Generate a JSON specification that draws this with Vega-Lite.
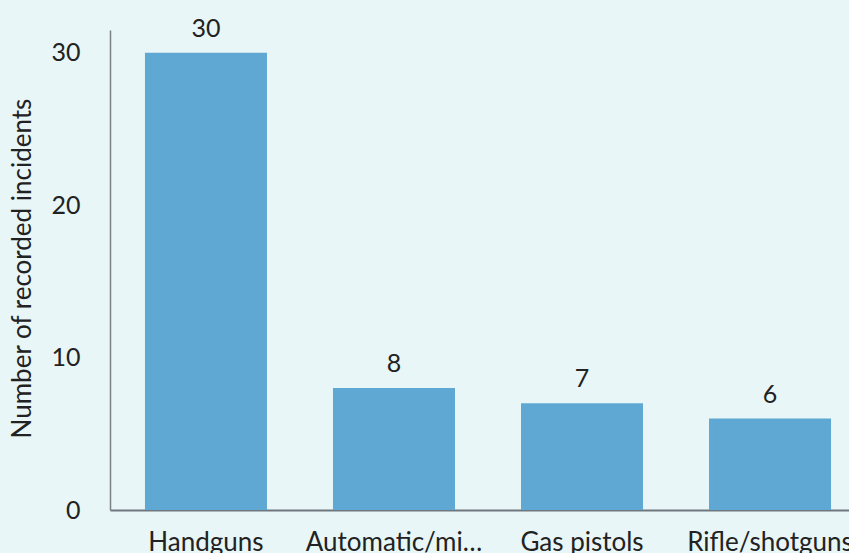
{
  "$schema": "https://vega.github.io/schema/vega-lite/v6.json",
  "autosize": {"type": "none"},
  "padding": {"left": 110, "top": 30, "right": 0, "bottom": 43},
  "width": 756,
  "height": 480,
  "background": "#e8f6f7",
  "config": {"view": {"stroke": null}, "font": "Lato"},
  "data": {"values": [
    {"weapon": "Handguns", "count": 30},
    {"weapon": "Automatic/military weapons", "count": 8},
    {"weapon": "Gas pistols", "count": 7},
    {"weapon": "Rifle/shotguns", "count": 6}
  ]},
  "encoding": {
    "x": {"field": "weapon", "type": "nominal", "sort": null,
      "scale": {"paddingInner": 0.351, "paddingOuter": 0.186},
      "axis": {"title": null, "labelAngle": 0, "labelFontSize": 26, "labelColor": "#222222", "labelPadding": 32, "labelBaseline": "middle", "ticks": false, "domainColor": "#6f777e", "domainWidth": 2, "labelLimit": 177, "labelFont": "Lato"}},
    "y": {"field": "count", "type": "quantitative",
      "scale": {"domain": [0, 31.5], "nice": false},
      "axis": {"title": "Number of recorded incidents", "values": [0, 10, 20, 30], "grid": false, "ticks": false, "labelFontSize": 25, "labelColor": "#222222", "labelPadding": 30, "domainColor": "#7a8288", "domainWidth": 1.5, "titleFontSize": 26, "titleFontWeight": "normal", "titleColor": "#222222", "titleX": -88, "titleY": 238, "titleAlign": "center", "titleBaseline": "middle", "titleAngle": -90, "labelFont": "Lato", "titleFont": "Lato"}}
  },
  "layer": [
    {"mark": {"type": "bar", "color": "#5fa8d3"}},
    {"mark": {"type": "text", "baseline": "bottom", "dy": -11, "fontSize": 25, "color": "#222222", "font": "Lato"},
     "encoding": {"text": {"field": "count", "type": "quantitative"}}}
  ]
}
